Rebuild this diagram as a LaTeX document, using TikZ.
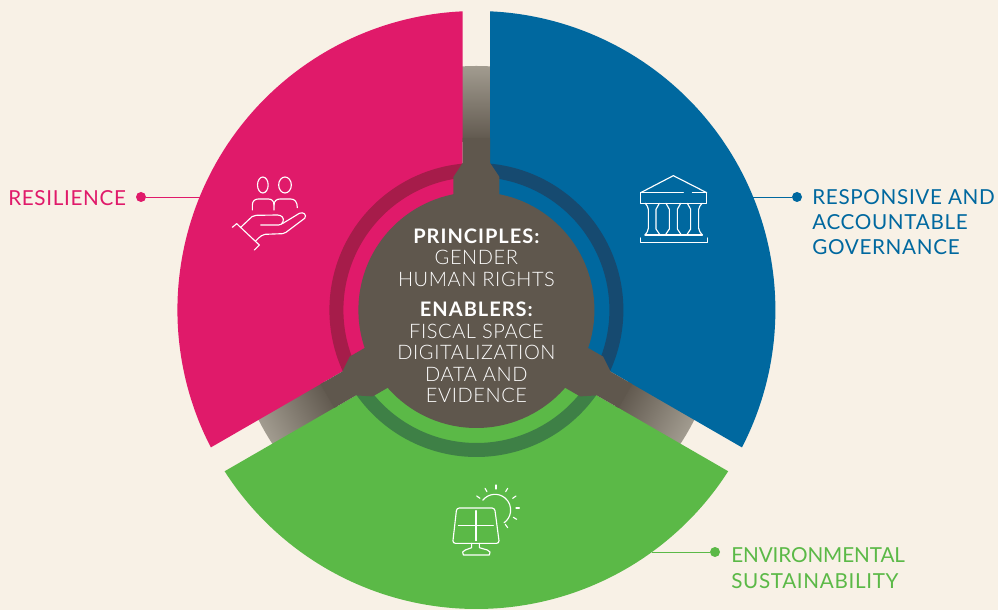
\documentclass[tikz,border=0pt]{standalone}
\usepackage{fontspec}
\setmainfont{Lato Light}[LetterSpace=3]
\newfontfamily\heavy{Lato}[BoldFont={Lato Bold},LetterSpace=5]
\newfontfamily\labelfont{Lato}[LetterSpace=3.2]
\newfontfamily\labelnarrow{Lato}[LetterSpace=-0.5]
\definecolor{bgc}{HTML}{F8F1E6}
\definecolor{pinkc}{HTML}{E01A6A}
\definecolor{bluec}{HTML}{00689F}
\definecolor{greenc}{HTML}{5BB947}
\definecolor{pinkd}{HTML}{A61C4A}
\definecolor{blued}{HTML}{164A70}
\definecolor{greend}{HTML}{3E8046}
\definecolor{neckc}{HTML}{5F574D}
\definecolor{arml}{HTML}{A29C90}
\tikzset{
  x=0.75pt,y=0.75pt,
  ringarc/.style={line width=10.5pt},
  icon/.style={draw=white,line width=0.85pt,line join=round,line cap=round},
  dotnode/.style={circle,inner sep=0pt,minimum size=7.5pt},
  leader/.style={line width=0.7pt},
  label/.style={anchor=west,align=left,inner sep=0pt,font=\labelfont\fontsize{15.5}{19}\selectfont},
  midtext/.style={align=center,inner sep=0pt,text=white,font=\fontsize{15}{16.1}\selectfont},
}
\newcommand{\bfline}[1]{{\heavy\bfseries #1}}
\begin{document}
\begin{tikzpicture}
\useasboundingbox (0,0) rectangle (998,610);
\fill[bgc] (0,0) rectangle (998,610);
\coordinate (c) at (476.4,300);

% gradient arms behind the sectors
\foreach \a in {90,210,330}{
  \shade[left color=neckc,right color=arml,transform canvas={shift={(476.4,300)},rotate=\a}]
    (168,-14.5) -- (243.57,-14.5) arc[start angle=-3.41,end angle=3.41,radius=244] -- (168,14.5) -- cycle;
}

\begin{scope}[shift={(c)}]
  % sectors
  \fill[pinkc] (92.64:299) arc[start angle=92.64,end angle=207.36,radius=299] -- (150:15.9) -- cycle;
  \fill[bluec] (87.36:299) arc[start angle=87.36,end angle=-27.36,radius=299] -- (30:15.9) -- cycle;
  \fill[greenc] (212.64:299) arc[start angle=212.64,end angle=327.36,radius=299] -- (270:15.9) -- cycle;
  % rings
  \draw[ringarc,pinkd] (95:140) arc[start angle=95,end angle=205,radius=140];
  \draw[ringarc,blued] (85:140) arc[start angle=85,end angle=-25,radius=140];
  \draw[ringarc,greend] (215:140) arc[start angle=215,end angle=325,radius=140];
  % necks
  \foreach \a in {90,210,330}{
    \fill[neckc,rotate=\a] (105,23) -- (133,23) -- (147,13.75) -- (172,13.75) -- (172,-13.75) -- (147,-13.75) -- (133,-23) -- (105,-23) -- cycle;
  }
  \fill[neckc] (0,0) circle[radius=118];
\end{scope}

% central text
\node[midtext] (principles) at (476.4,352.5) {\bfline{PRINCIPLES:}\\GENDER\\HUMAN RIGHTS};
\node[midtext] (enablers) at (476.4,257.5) {\bfline{ENABLERS:}\\FISCAL SPACE\\DIGITALIZATION\\DATA AND\\EVIDENCE};

% labels and leaders
\node[label,text=pinkc] (lres) at (8,412) {RESILIENCE};
\node[dotnode,fill=pinkc] (dres) at (141,413) {};
\coordinate (eres) at (201,413);
\draw[leader,pinkc] (dres) -- (eres);

\node[label,text=bluec] (lgov) at (812,388) {RESPONSIVE AND\\ACCOUNTABLE\\GOVERNANCE};
\node[dotnode,fill=bluec] (dgov) at (797,413) {};
\coordinate (egov) at (752,413);
\draw[leader,bluec] (dgov) -- (egov);

\node[label,text=greenc] (lenv) at (731,42) {{\labelnarrow\fontsize{15.5}{19}\selectfont ENVIRONMENTAL}\\SUSTAINABILITY};
\node[dotnode,fill=greenc] (denv) at (715,58) {};
\coordinate (eenv) at (652,58);
\draw[leader,greenc] (denv) -- (eenv);

% hand icon
\begin{scope}[shift={(220,445)},xscale=1/3,yscale=-1/3]
  \draw[icon] (128.5,60) ellipse[x radius=16,y radius=24];
  \draw[icon] (195,60) ellipse[x radius=19,y radius=24];
  \draw[icon] (97,135) -- (97,120) .. controls (97,108) and (105,102) .. (115,102) -- (145,102) .. controls (155,102) and (162,108) .. (162,120) -- (162,135);
  \draw[icon] (162,120) .. controls (162,108) and (170,102) .. (180,102) -- (212,102) .. controls (224,102) and (232,110) .. (232,128);
  \draw[icon] (37,187) -- (50,176) -- (118,240) -- (103,255);
  \draw[icon] (62,187) -- (96,155) .. controls (100,152) and (103,151) .. (108,151) -- (172,150) .. controls (186,150) and (193,160) .. (189,170) .. controls (187,177) and (182,180) .. (176,180) -- (122,180);
  \draw[icon] (187,176) -- (238,145) .. controls (250,139) and (262,150) .. (254,160) -- (198,202) .. controls (195,205) and (192,206) .. (188,206) -- (135,208) .. controls (128,209) and (122,212) .. (106,229);
\end{scope}

% temple icon
\begin{scope}[shift={(630,445)},xscale=1/3,yscale=-1/3]
  \draw[icon] (32,83) -- (130,32) -- (230,83);
  \draw[icon] (160,83) -- (32,83) -- (32,115) -- (230,115) -- (230,83) -- (187,83);
  \draw[icon] (46,115) .. controls (50,122) and (55,125) .. (55,133) -- (55,190) .. controls (55,198) and (50,203) .. (45,210);
  \draw[icon] (88,115) -- (78,133) -- (78,192) -- (90,210);
  \draw[icon] (108,115) -- (118,133) -- (118,192) -- (106,210);
  \draw[icon] (152,115) -- (142,133) -- (142,192) -- (154,210);
  \draw[icon] (172,115) -- (182,133) -- (182,192) -- (170,210);
  \draw[icon] (216,115) .. controls (212,122) and (206,125) .. (206,133) -- (206,190) .. controls (206,198) and (212,203) .. (217,210);
  \draw[icon] (45,210) -- (217,210);
  \draw[icon] (32,219) -- (32,232) -- (232,232) -- (232,219);
\end{scope}

% solar icon
\begin{scope}[shift={(440,130)},xscale=1/3,yscale=-1/3]
  \draw[icon,rounded corners=2pt] (50,84) -- (164,84) -- (178,190) -- (38,190) -- cycle;
  \draw[icon] (108,92) -- (108,182);
  \draw[icon] (55,137) -- (160,137);
  \draw[icon] (95,190) -- (95,203) -- (76,210) -- (68,216) -- (70,225) -- (148,225) -- (150,216) -- (142,210) -- (118,203) -- (118,190);
  \draw[icon] ([shift={(165,90)}]218.7:47) arc[start angle=218.7,end angle=414.5,radius=47];
  \draw[icon] (168,15) -- (168,27);
  \draw[icon] (135,25) -- (141,35);
  \draw[icon] (203,25) -- (197,35);
  \draw[icon] (110,48) -- (120,55);
  \draw[icon] (228,48) -- (218,55);
  \draw[icon] (228,84) -- (238,84);
  \draw[icon] (220,112) -- (230,118);
  \draw[icon] (196,133) -- (203,143);
\end{scope}
\end{tikzpicture}
\end{document}
